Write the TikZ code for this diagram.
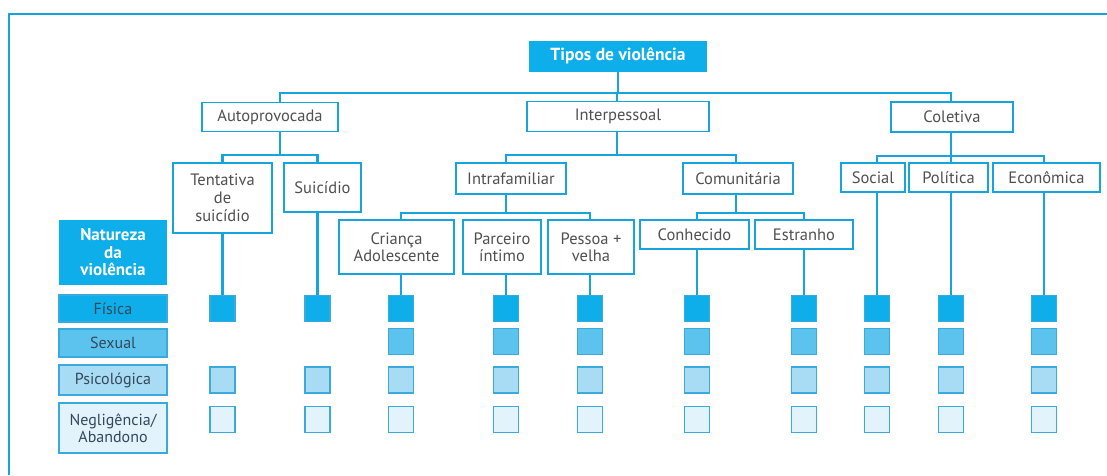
\documentclass[tikz,border=0pt]{standalone}
\usepackage{fontspec}
\setmainfont{PT Sans}
\definecolor{cline}{HTML}{16A4DE}
\definecolor{cmain}{HTML}{0DAEEA}
\definecolor{csex}{HTML}{5CC3EE}
\definecolor{cpsi}{HTML}{A8DCF4}
\definecolor{cneg}{HTML}{E2F3FC}
\definecolor{cbord}{HTML}{3AA9DC}
\definecolor{ctext}{HTML}{505050}
\definecolor{crow}{HTML}{34485A}
\begin{document}
\begin{tikzpicture}[x=1pt,y=-1pt,
  conn/.style={draw=cline,line width=2.3pt},
  tbox/.style={draw=cline,line width=1.2pt,fill=white,text=ctext,inner sep=0pt,align=center,
    font=\fontsize{16.5}{18}\selectfont},
  hbox/.style={fill=cmain,text=white,inner sep=0pt,align=center,
    font=\fontsize{17.5}{17.5}\selectfont\bfseries},
  rowbox/.style={draw=cbord,line width=1.2pt,text=crow,inner sep=0pt,align=center,
    minimum width=108pt,font=\fontsize{16}{17}\selectfont},
  sq/.style={draw=cbord,line width=1.1pt,minimum width=25pt,minimum height=26pt,inner sep=0pt}]
\useasboundingbox (0,0) rectangle (1107,475);
% frame
\draw[draw=cline,line width=2pt] (9,475) -- (9,14) -- (1107,14);
% tree nodes
\node[hbox,minimum width=178pt,minimum height=31pt] (tipos) at (618,56) {Tipos de violência};
\node[tbox,minimum width=136pt,minimum height=29pt] (auto) at (270,117) {Autoprovocada};
\node[tbox,minimum width=182pt,minimum height=30pt] (inter) at (618,116.5) {Interpessoal};
\node[tbox,minimum width=122pt,minimum height=30pt] (colet) at (952,117) {Coletiva};
\node[tbox,minimum width=99pt,minimum height=70pt] (tent) at (222.5,198) {Tentativa\\de\\suicídio};
\node[tbox,minimum width=77pt,minimum height=49pt] (suic) at (322.5,187.5) {Suicídio};
\node[tbox,minimum width=110pt,minimum height=31pt] (intra) at (511,178.5) {Intrafamiliar};
\node[tbox,minimum width=110pt,minimum height=31pt] (comu) at (738,178.5) {Comunitária};
\node[tbox,minimum width=64pt,minimum height=29pt] (social) at (873,177.5) {Social};
\node[tbox,minimum width=79pt,minimum height=29pt] (polit) at (948.5,177.5) {Política};
\node[tbox,minimum width=107pt,minimum height=29pt] (econ) at (1046.5,177.5) {Econômica};
\node[tbox,minimum width=115pt,minimum height=54pt,font=\fontsize{16.5}{17.5}\selectfont] (crian) at (396.5,247) {Criança\\Adolescente};
\node[tbox,minimum width=78pt,minimum height=54pt,font=\fontsize{16.5}{17.5}\selectfont] (parc) at (502,247) {Parceiro\\íntimo};
\node[tbox,minimum width=86pt,minimum height=54pt,font=\fontsize{16.5}{17.5}\selectfont] (pess) at (591,247) {Pessoa +\\velha};
\node[tbox,minimum width=109pt,minimum height=29pt] (conh) at (694.5,234.5) {Conhecido};
\node[tbox,minimum width=98pt,minimum height=29pt] (estr) at (804,234.5) {Estranho};
% row labels
\node[hbox,minimum width=108pt,minimum height=65pt,font=\fontsize{17}{17.5}\selectfont\bfseries] (nat) at (113,252.5) {Natureza\\da\\violência};
\node[rowbox,fill=cmain,minimum height=27pt] (fis) at (113,308.5) {Física};
\node[rowbox,fill=csex,minimum height=28pt] (sex) at (113,343) {Sexual};
\node[rowbox,fill=cpsi,minimum height=30pt] (psi) at (113,380) {Psicológica};
\node[rowbox,fill=cneg,minimum height=50pt,font=\fontsize{16}{17.5}\selectfont] (neg) at (113,428) {Negligência/\\Abandono};
% x positions of connectors
\coordinate (Xa) at (280,0);
\coordinate (Xi) at (617,0);
\coordinate (Xm) at (736,0);
\coordinate (Xc) at (951,0);
\coordinate (B0) at (0,93);
\coordinate (B1) at (0,155);
\coordinate (B1c) at (0,156);
\coordinate (B2) at (0,213);
% squares
\foreach \n/\x in {1/222.5,2/317.5,3/401,4/506,5/590,6/697,7/804,8/877,9/951,10/1044}{
  \node[sq,fill=cmain] (f\n) at (\x,308.5) {};
  \node[sq,fill=cpsi] (p\n) at (\x,380) {};
  \node[sq,fill=cneg] (g\n) at (\x,419.5) {};
}
\foreach \n/\x in {3/401,4/506,5/590,6/697,7/804,8/877,9/951,10/1044}{
  \node[sq,fill=csex] (s\n) at (\x,341.5) {};
}
% level 1
\draw[conn] (tipos.south) -- (tipos.south |- B0);
\draw[conn] (Xa |- auto.north) -- (Xa |- B0) -- (Xc |- B0) -- (Xc |- colet.north);
\draw[conn] (Xi |- B0) -- (Xi |- inter.north);
% autoprovocada
\draw[conn] (Xa |- auto.south) -- (Xa |- B1);
\draw[conn] (f1 |- tent.north) -- (f1 |- B1) -- (f2 |- B1) -- (f2 |- suic.north);
% interpessoal
\draw[conn] (Xi |- inter.south) -- (Xi |- B1);
\draw[conn] (f4 |- intra.north) -- (f4 |- B1) -- (Xm |- B1) -- (Xm |- comu.north);
% coletiva
\draw[conn] (Xc |- colet.south) -- (Xc |- B1c);
\draw[conn] (f8 |- social.north) -- (f8 |- B1c) -- (f10 |- B1c) -- (f10 |- econ.north);
\draw[conn] (Xc |- B1c) -- (Xc |- polit.north);
% intrafamiliar
\draw[conn] (f4 |- intra.south) -- (f4 |- B2);
\draw[conn] (f3 |- crian.north) -- (f3 |- B2) -- (f5 |- B2) -- (f5 |- pess.north);
% comunitaria
\draw[conn] (Xm |- comu.south) -- (Xm |- B2);
\draw[conn] (f6 |- conh.north) -- (f6 |- B2) -- (f7 |- B2) -- (f7 |- estr.north);
% column stems
\draw[conn] (f1.north) -- (f1 |- tent.south);
\draw[conn] (f2.north) -- (f2 |- suic.south);
\draw[conn] (f3.north) -- (f3 |- crian.south);
\draw[conn] (f4.north) -- (f4 |- parc.south);
\draw[conn] (f5.north) -- (f5 |- pess.south);
\draw[conn] (f6.north) -- (f6 |- conh.south);
\draw[conn] (f7.north) -- (f7 |- estr.south);
\draw[conn] (f8.north) -- (f8 |- social.south);
\draw[conn] (f9.north) -- (f9 |- polit.south);
\draw[conn] (f10.north) -- (f10 |- econ.south);
\end{tikzpicture}
\end{document}
